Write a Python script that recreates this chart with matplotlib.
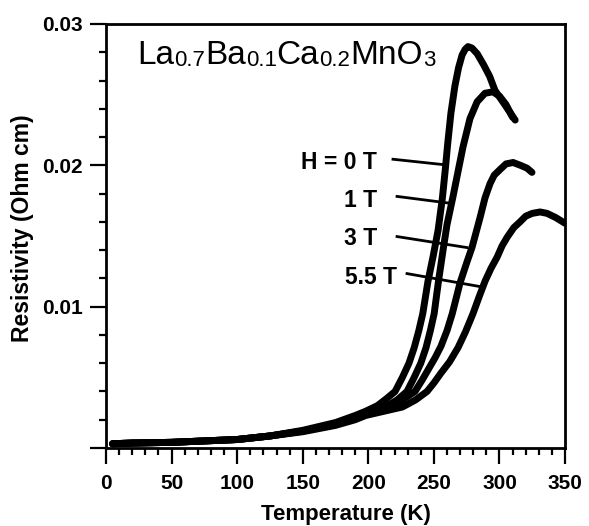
import matplotlib.pyplot as plt
import numpy as np

plt.rcParams['font.family'] = ['Liberation Sans', 'DejaVu Sans']

# resistivity vs temperature
t_low = [5, 20, 50, 75, 100, 125]
rho_low = [0.0003, 0.00035, 0.0004, 0.0005, 0.0006, 0.00085]

t_0T = [150, 175, 190, 198, 207, 214, 220.4, 226, 231, 235, 238.5, 241.5, 245.5, 249.5, 253.2,
        256.5, 258.8, 260.5, 263, 266, 268.8, 271.5, 273.8, 276, 279, 283, 288, 292.5, 296.6, 304, 312]
rho_0T = [0.00125, 0.0018, 0.0023, 0.0026, 0.0030, 0.0035, 0.0040, 0.0050, 0.0060, 0.0071, 0.0083,
          0.0095, 0.0118, 0.0136, 0.0154, 0.0177, 0.0198, 0.0215, 0.0237, 0.0256, 0.0269, 0.0278,
          0.0282, 0.0284, 0.0283, 0.0279, 0.0271, 0.0263, 0.0253, 0.0243, 0.0232]

t_1T = [150, 175, 190, 198, 213, 222, 229.5, 235, 240, 244, 247.3, 250.2, 253.5, 257, 260, 264.6,
        268.5, 272.2, 277.5, 283, 289, 295, 300, 305, 310]
rho_1T = [0.0012, 0.0017, 0.0022, 0.0025, 0.0029, 0.0034, 0.0040, 0.0050, 0.0060, 0.0071, 0.0083,
          0.0095, 0.0118, 0.0140, 0.0158, 0.0178, 0.0196, 0.0213, 0.0233, 0.0245, 0.0251, 0.0252,
          0.0249, 0.0243, 0.0234]

t_3T = [150, 175, 190, 198, 218, 226, 235.6, 241, 246, 251, 255.4, 260, 264, 270, 275, 279.1, 285.2,
        289, 292.8, 296, 300.4, 305, 310.4, 316, 321, 324.8]
rho_3T = [0.0012, 0.0017, 0.0021, 0.0024, 0.0029, 0.0034, 0.0040, 0.0048, 0.0056, 0.0064, 0.0072,
          0.0083, 0.0095, 0.0117, 0.0131, 0.0142, 0.0163, 0.0177, 0.0187, 0.0193, 0.0197, 0.0201,
          0.0202, 0.0200, 0.0198, 0.0195]

t_55T = [150, 175, 190, 198, 226, 236, 244.8, 250, 255.4, 262, 268.4, 274, 279.8, 284.5, 289, 293.5,
         298.2, 302, 305.8, 311, 315.7, 320, 325, 331, 336.3, 343, 350]
rho_55T = [0.00115, 0.0016, 0.0020, 0.0023, 0.0029, 0.0034, 0.0040, 0.0046, 0.0053, 0.0061, 0.0071,
           0.0082, 0.0095, 0.0107, 0.0118, 0.0127, 0.0135, 0.0143, 0.0149, 0.0156, 0.0160, 0.0164,
           0.0166, 0.0167, 0.0166, 0.0163, 0.0159]

field_labels = ['H = 0 T', '1 T', '3 T', '5.5 T']
# label anchor (right edge) and leader line ends, data coords
label_x = [206.6, 206.6, 206.6, 221.9]
label_y = [0.02021, 0.01752, 0.01482, 0.01206]
leader_start = [(218.8, 0.02043), (221.9, 0.0178), (221.9, 0.01496), (229.5, 0.01234)]
leader_end = [(256.2, 0.02006), (263.8, 0.0173), (275.3, 0.01418), (285.2, 0.01142)]

fig = plt.figure(figsize=(5.89, 5.26), dpi=100)
ax = fig.add_axes([0.180, 0.1483, 0.7793, 0.8061])

for t_hi, rho_hi in [(t_0T, rho_0T), (t_1T, rho_1T), (t_3T, rho_3T), (t_55T, rho_55T)]:
    ax.plot(t_low + t_hi, rho_low + rho_hi, color='black', lw=5,
            solid_capstyle='round', solid_joinstyle='round')

for lab, lx, ly, p0, p1 in zip(field_labels, label_x, label_y, leader_start, leader_end):
    ax.text(lx, ly, lab, ha='right', va='center', fontsize=16.5, fontweight='bold')
    ax.plot([p0[0], p1[0]], [p0[1], p1[1]], color='black', lw=2)

# formula, subscripts smaller but on the baseline
pieces = [('La', 24), ('0.7', 16), ('Ba', 24), ('0.1', 16), ('Ca', 24), ('0.2', 16), ('MnO', 24), ('3', 16)]
prev = ax.text(0.0675, 0.889, pieces[0][0], transform=ax.transAxes, fontsize=pieces[0][1],
               ha='left', va='bottom')
for s, fs in pieces[1:]:
    prev = ax.annotate(s, xy=(1, 0), xycoords=prev, fontsize=fs, ha='left', va='bottom')

ax.set_xlim(0, 350)
ax.set_ylim(0, 0.03)
ax.set_xticks(np.arange(0, 351, 50))
ax.set_xticks(np.arange(0, 351, 10), minor=True)
ax.set_yticks([0, 0.01, 0.02, 0.03])
ax.set_yticklabels(['', '0.01', '0.02', '0.03'])
ax.set_yticks(np.arange(0, 0.0301, 0.002), minor=True)

ax.tick_params(which='major', direction='out', length=11.5, width=1.6, labelsize=15)
ax.tick_params(axis='x', which='major', pad=7)
ax.tick_params(axis='y', which='major', pad=5)
ax.tick_params(which='minor', direction='out', length=5, width=1.6)
for lab in ax.get_xticklabels() + ax.get_yticklabels():
    lab.set_fontweight('bold')

for sp in ax.spines.values():
    sp.set_linewidth(2)

ax.set_xlabel('Temperature (K)', fontsize=16, fontweight='bold')
ax.set_ylabel('Resistivity (Ohm cm)', fontsize=16.5, fontweight='bold')
ax.xaxis.label.set_va('center')
ax.yaxis.label.set_va('center')
ax.xaxis.set_label_coords(0.523, -0.156)
ax.yaxis.set_label_coords(-0.181, 0.519)

plt.savefig('out.png', dpi=100)
